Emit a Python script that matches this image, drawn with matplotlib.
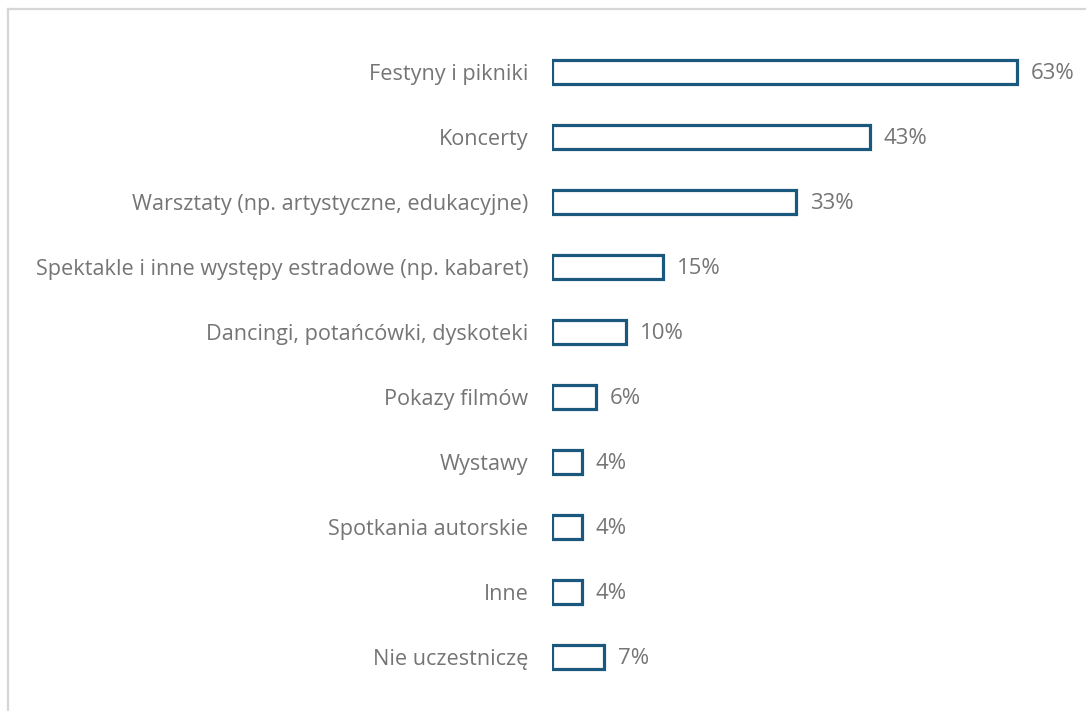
import matplotlib
matplotlib.use("Agg")
import matplotlib.pyplot as plt
from matplotlib.lines import Line2D

plt.rcParams["font.family"] = ["Open Sans", "DejaVu Sans"]

EDGE = "#1b587d"; TXT = "#757575"; FRAME = "#d6d6d6"

kategorie = [
    "Festyny i pikniki",
    "Koncerty",
    "Warsztaty (np. artystyczne, edukacyjne)",
    "Spektakle i inne występy estradowe (np. kabaret)",
    "Dancingi, potańcówki, dyskoteki",
    "Pokazy filmów",
    "Wystawy",
    "Spotkania autorskie",
    "Inne",
    "Nie uczestniczę",
]
procent = [63, 43, 33, 15, 10, 6, 4, 4, 4, 7]

fig = plt.figure(figsize=(10.86, 7.11), dpi=100)
ax = fig.add_axes([0.5083, 0.0302, 0.476, 0.914])
y = list(range(len(kategorie)))
ax.barh(y, procent, height=0.37, color="white", edgecolor=EDGE, linewidth=2.3)
for yi, v in zip(y, procent):
    ax.annotate(f"{v}%", (v, yi), xytext=(10, -1), textcoords="offset points",
                ha="left", va="center", fontsize=16, color=TXT)
ax.set_xlim(0, 70)
ax.set_ylim(len(kategorie) - 0.5, -0.5)
ax.set_yticks(y)
ax.set_yticklabels(kategorie, fontsize=15.6, color=TXT)
ax.tick_params(axis="y", length=0, pad=17)
ax.set_xticks([])
for s in ax.spines.values():
    s.set_visible(False)

# jasna ramka (góra i lewa strona)
fig.add_artist(Line2D([8/1086, 8/1086], [0, 1 - 9/711], color=FRAME, lw=1.6, transform=fig.transFigure))
fig.add_artist(Line2D([8/1086, 1], [1 - 9/711, 1 - 9/711], color=FRAME, lw=1.6, transform=fig.transFigure))

fig.savefig("out.png", dpi=100, facecolor="white")
